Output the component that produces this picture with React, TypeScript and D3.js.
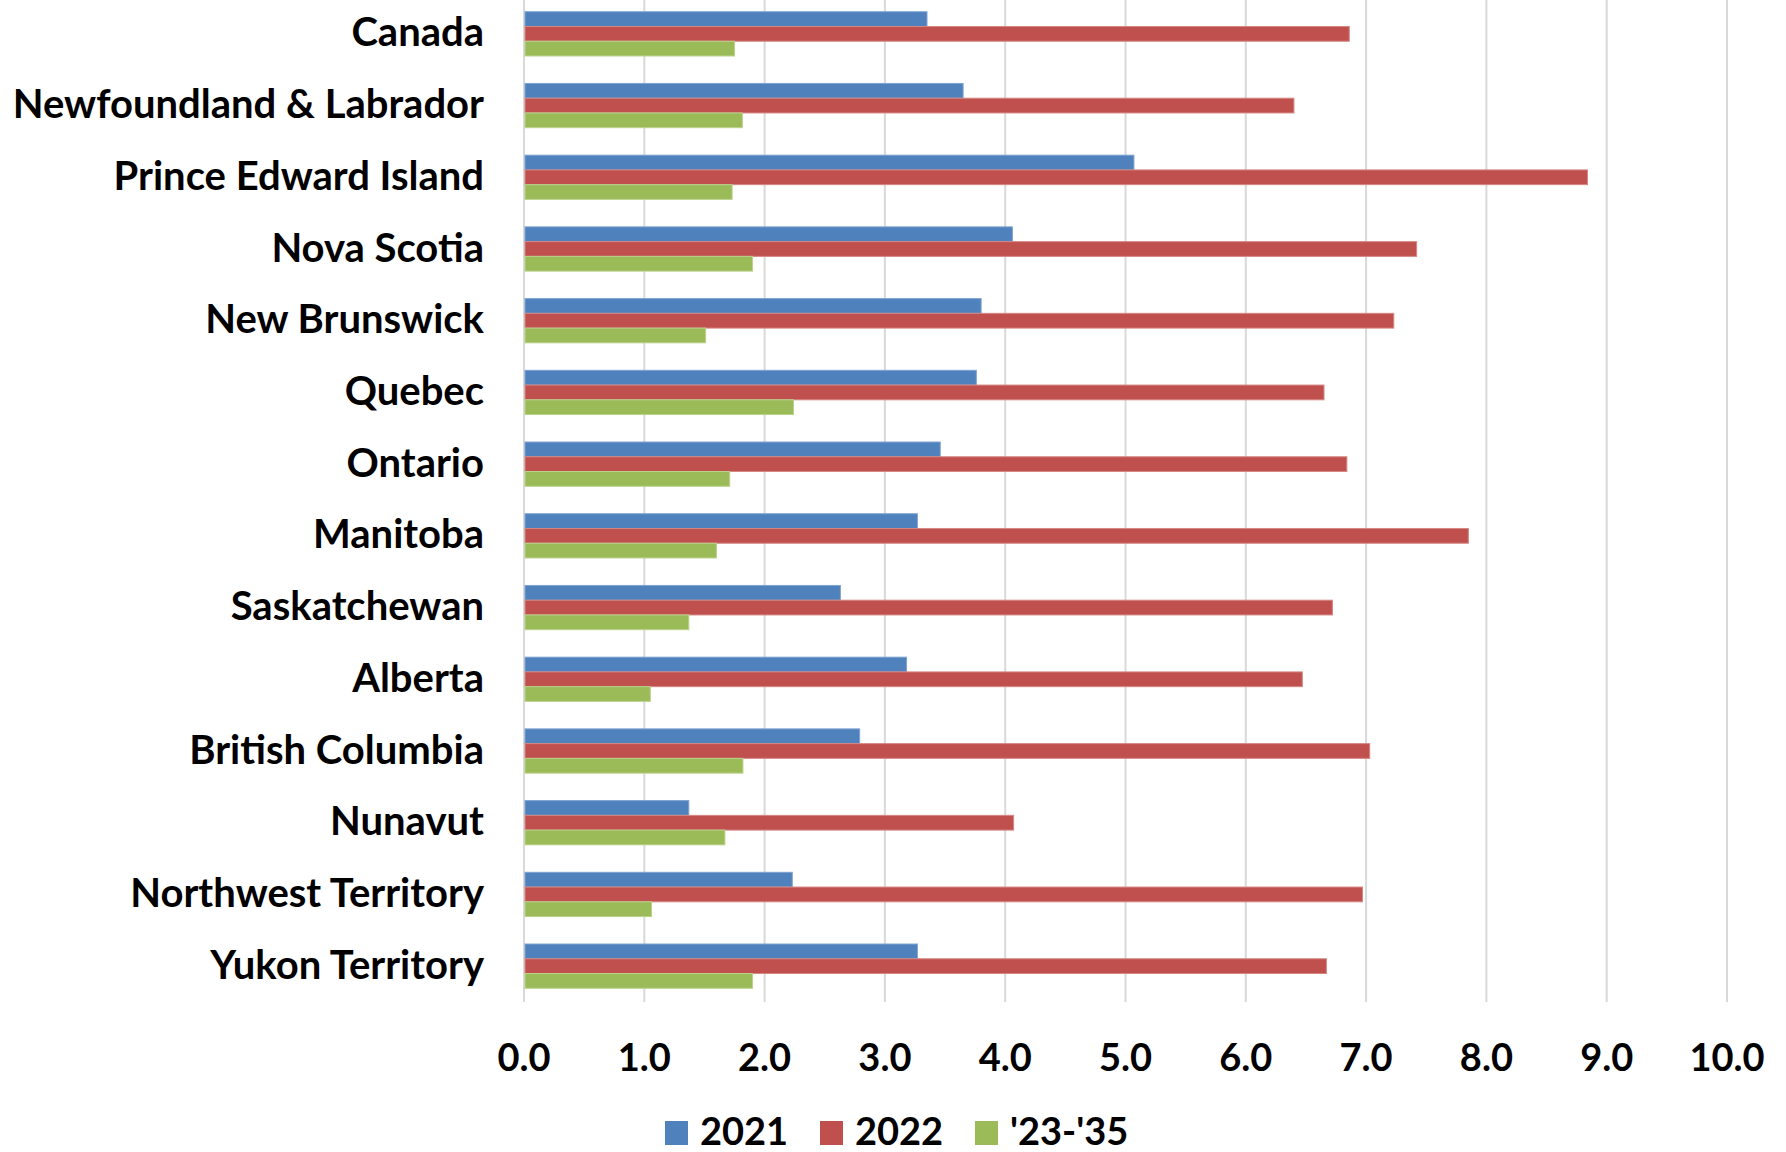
import React from "react";
import * as d3 from "d3";

const categories = [
  "Canada",
  "Newfoundland & Labrador",
  "Prince Edward Island",
  "Nova Scotia",
  "New Brunswick",
  "Quebec",
  "Ontario",
  "Manitoba",
  "Saskatchewan",
  "Alberta",
  "British Columbia",
  "Nunavut",
  "Northwest Territory",
  "Yukon Territory",
];

const seriesNames = ["2021", "2022", "'23-'35"];
const seriesColors = ["#4F81BD", "#C0504D", "#9BBB59"];
const seriesStroke = ["#7FA3D1", "#D58784", "#BBD28C"];

const values2021 = [3.35, 3.65, 5.07, 4.06, 3.8, 3.76, 3.46, 3.27, 2.63, 3.18, 2.79, 1.37, 2.23, 3.27];
const values2022 = [6.86, 6.4, 8.84, 7.42, 7.23, 6.65, 6.84, 7.85, 6.72, 6.47, 7.03, 4.07, 6.97, 6.67];
const values2335 = [1.75, 1.815, 1.73, 1.9, 1.51, 2.24, 1.71, 1.6, 1.37, 1.05, 1.82, 1.67, 1.06, 1.9];

const tickValues = [0, 1, 2, 3, 4, 5, 6, 7, 8, 9, 10];

const W = 1786;
const H = 1152;
const FONT = "Lato, 'Open Sans', sans-serif";

export default function App() {
  const seriesValues = [values2021, values2022, values2335];
  const x = d3.scaleLinear().domain([0, 10]).range([524, 1727]);
  const y = d3
    .scaleBand<string>()
    .domain(categories)
    .range([-2, 1002])
    .paddingInner(0.383)
    .paddingOuter(0.1915);
  const s = d3
    .scaleBand<string>()
    .domain(seriesNames)
    .range([0, y.bandwidth()])
    .padding(0);
  const fmt = d3.format(".1f");
  const plotTop = 0;
  const plotBottom = 1002;

  const legendItems = [
    { sq: 665, tx: 700 },
    { sq: 820, tx: 855 },
    { sq: 975, tx: 1010 },
  ];

  return (
    <svg
      width={W}
      height={H}
      viewBox={`0 0 ${W} ${H}`}
      style={{ position: "absolute", left: 0, top: 0, display: "block", background: "#fff" }}
      fontFamily={FONT}
    >
      <rect x={0} y={0} width={W} height={H} fill="#fff" />
      {/* gridlines */}
      {tickValues.map((t) => (
        <line
          key={"g" + t}
          x1={x(t)}
          x2={x(t)}
          y1={plotTop}
          y2={plotBottom}
          stroke="#D9D9D9"
          strokeWidth={2}
        />
      ))}
      {/* bars */}
      {categories.map((c, i) => (
        <g key={c} transform={`translate(0,${y(c)})`}>
          {seriesNames.map((sn, k) => (
            <rect
              key={sn}
              x={x(0) + 1}
              y={s(sn)}
              width={Math.max(0, x(seriesValues[k][i]) - x(0) - 1)}
              height={s.bandwidth()}
              fill={seriesColors[k]}
              stroke={seriesStroke[k]}
              strokeWidth={1}
            />
          ))}
        </g>
      ))}
      {/* category labels */}
      {categories.map((c) => (
        <text
          key={"l" + c}
          x={484}
          y={(y(c) as number) + y.bandwidth() / 2 + 12.5}
          textAnchor="end"
          fontSize={40}
          fontWeight={700}
          fill="#000"
        >
          {c}
        </text>
      ))}
      {/* tick labels */}
      {tickValues.map((t) => (
        <text
          key={"t" + t}
          x={x(t)}
          y={1071}
          textAnchor="middle"
          fontSize={38}
          fontWeight={700}
          fill="#000"
        >
          {fmt(t)}
        </text>
      ))}
      {/* legend */}
      {seriesNames.map((sn, k) => (
        <g key={"lg" + sn}>
          <rect x={legendItems[k].sq} y={1121} width={23} height={24} fill={seriesColors[k]} />
          <text x={legendItems[k].tx} y={1145} fontSize={38} fontWeight={700} fill="#000">
            {sn}
          </text>
        </g>
      ))}
    </svg>
  );
}
